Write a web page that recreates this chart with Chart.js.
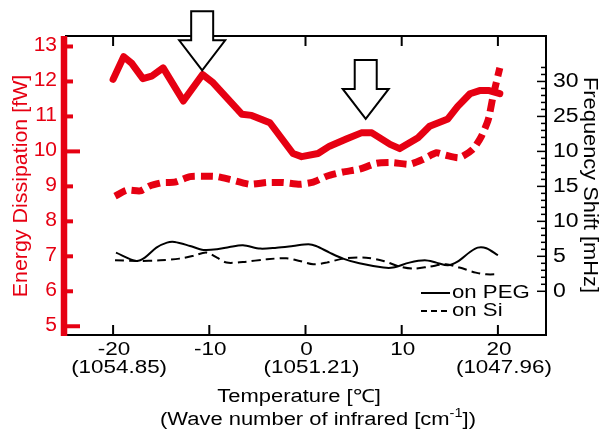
<!DOCTYPE html>
<html>
<head>
<meta charset="utf-8">
<script src="https://cdn.jsdelivr.net/npm/chart.js@4.4.0/dist/chart.umd.min.js"></script>
<style>
  html, body { margin: 0; padding: 0; background: #fff; }
  #wrap { width: 602px; height: 434px; }
</style>
</head>
<body>
<div id="wrap"><canvas id="chart"></canvas></div>
<script>
// energy dissipation [fW], left axis
const pegDissT = [-20.0, -18.9, -18.1, -16.9, -16.0, -14.8, -12.7, -10.7, -9.6, -6.6, -5.6, -3.7, -1.3, -0.4, 1.3, 2.5, 4.3, 5.8, 6.9, 8.8, 9.8, 11.7, 12.9, 14.8, 15.8, 17.1, 18.1, 19.1, 20.2];
const pegDissE = [12.06, 12.71, 12.53, 12.08, 12.15, 12.39, 11.44, 12.2, 11.96, 11.06, 11.03, 10.82, 9.94, 9.85, 9.94, 10.15, 10.36, 10.53, 10.53, 10.2, 10.08, 10.39, 10.72, 10.93, 11.28, 11.65, 11.74, 11.74, 11.65];
const siDissT = [-19.8, -18.6, -17.2, -16.2, -14.8, -13.6, -12.0, -10.3, -9.2, -7.9, -5.8, -4.0, -2.3, -0.6, 0.8, 2.2, 3.9, 5.6, 7.4, 9.1, 10.8, 12.2, 13.6, 14.6, 16.0, 17.4, 18.3, 19.0, 19.5, 20.2];
const siDissE = [8.72, 8.89, 8.87, 9.01, 9.11, 9.12, 9.28, 9.29, 9.28, 9.2, 9.06, 9.11, 9.11, 9.06, 9.12, 9.29, 9.41, 9.49, 9.66, 9.68, 9.63, 9.77, 9.96, 9.89, 9.82, 10.06, 10.44, 10.91, 11.58, 12.39];

// frequency shift [mHz], right axis
const pegShiftT = [-19.7, -17.6, -16.7, -15.5, -14.4, -13.6, -12.0, -10.6, -9.2, -7.9, -6.5, -4.7, -3.0, -1.3, 0.3, 1.1, 2.5, 3.9, 5.6, 8.1, 9.1, 10.8, 12.4, 13.6, 14.8, 15.8, 17.1, 17.9, 18.8, 20.0];
const pegShiftV = [5.53, 4.34, 4.82, 6.24, 6.96, 7.05, 6.48, 5.91, 6.0, 6.34, 6.58, 6.1, 6.24, 6.48, 6.72, 6.48, 5.53, 4.67, 4.0, 3.39, 3.39, 4.1, 4.43, 4.1, 3.72, 4.24, 5.62, 6.24, 6.15, 5.15];
const siShiftT = [-19.8, -17.5, -15.1, -13.1, -11.7, -10.3, -9.2, -8.2, -6.5, -4.0, -2.0, -0.6, 0.8, 2.2, 3.9, 6.3, 8.1, 9.8, 11.2, 12.9, 14.6, 16.0, 17.7, 18.8, 20.0];
const siShiftV = [4.43, 4.34, 4.43, 4.67, 5.05, 5.53, 4.81, 4.1, 4.19, 4.58, 4.72, 4.34, 3.86, 4.1, 4.67, 4.81, 4.34, 3.53, 3.24, 3.53, 3.86, 3.39, 2.67, 2.43, 2.43];

// ticks
const xTicks = [-20, -10, 0, 10, 20];
const xTickLabels = ['-20', '-10', '0', '10', '20'];
const xTickWave = ['(1054.85)', '', '(1051.21)', '', '(1047.96)'];
const leftTicks = [5, 6, 7, 8, 9, 10, 11, 12, 13];
const rightTicks = [0, 5, 10, 15, 20, 25, 30];
const rightTickLabels = ['0', '5', '10', '15', '10', '25', '30'];
const seriesNames = ['on PEG', 'on Si'];

// arrow tips (temperature, dissipation)
const arrowTips = [{ x: -10.74, y: 12.32 }, { x: 6.26, y: 10.93 }];

const RED = '#e60012';
const FONT = '"Liberation Sans", Arial, sans-serif';

function pts(xs, ys) {
    return xs.map((x, i) => ({ x: x, y: ys[i] }));
}

function txt(ctx, s, x, y, size, align, sx, color, rot) {
    ctx.save();
    ctx.font = size + 'px ' + FONT;
    ctx.fillStyle = color || '#000';
    ctx.textBaseline = 'middle';
    ctx.textAlign = align;
    ctx.translate(x, y);
    if (rot) ctx.rotate(rot);
    ctx.scale(sx, 1);
    ctx.fillText(s, 0, 0);
    ctx.restore();
}

function line(ctx, x1, y1, x2, y2, w, color) {
    ctx.beginPath();
    ctx.moveTo(x1, y1);
    ctx.lineTo(x2, y2);
    ctx.lineWidth = w;
    ctx.strokeStyle = color;
    ctx.stroke();
}

function arrow(ctx, tx, ty) {
    // shaft 22 wide, head 46 wide, head 30 tall, total 59 tall
    ctx.beginPath();
    ctx.moveTo(tx, ty);
    ctx.lineTo(tx - 23, ty - 30);
    ctx.lineTo(tx - 11, ty - 30);
    ctx.lineTo(tx - 11, ty - 59);
    ctx.lineTo(tx + 11, ty - 59);
    ctx.lineTo(tx + 11, ty - 30);
    ctx.lineTo(tx + 23, ty - 30);
    ctx.closePath();
    ctx.fillStyle = '#fff';
    ctx.fill();
    ctx.lineWidth = 2;
    ctx.strokeStyle = '#000';
    ctx.lineJoin = 'miter';
    ctx.stroke();
}

const frame = {
    id: 'frame',
    afterDraw(chart) {
        const ctx = chart.ctx;
        const a = chart.chartArea;
        const x = chart.scales.x, yl = chart.scales.y, yr = chart.scales.y2;
        ctx.save();
        ctx.lineCap = 'butt';

        // box
        line(ctx, a.left, a.top, a.right + 1, a.top, 2, '#000');
        line(ctx, a.left, a.bottom, a.right + 1, a.bottom, 2, '#000');
        line(ctx, a.right, a.top, a.right, a.bottom, 2, '#000');

        // x ticks top and bottom
        xTicks.forEach((v, i) => {
            const px = x.getPixelForValue(v);
            line(ctx, px, a.bottom, px, a.bottom - 10, 2, '#000');
            line(ctx, px, a.top, px, a.top + 10, 2, '#000');
            txt(ctx, xTickLabels[i], px + 1, 350, 18, 'center', 1.25);
            if (xTickWave[i]) txt(ctx, xTickWave[i], px + 6, 368, 17.5, 'center', 1.28);
        });

        // right axis: minor every 1 mHz
        for (let v = 0; v <= 32; v++) {
            const py = yr.getPixelForValue(v);
            const len = v % 5 === 0 ? 9 : 5;
            line(ctx, a.right, py, a.right - len, py, 1.5, '#000');
        }
        rightTicks.forEach((v, i) => {
            txt(ctx, rightTickLabels[i], a.right + 7, yr.getPixelForValue(v), 20, 'left', 1.15);
        });

        // left red axis
        line(ctx, a.left - 1, a.top, a.left - 1, a.bottom + 1, 6.5, RED);
        leftTicks.forEach(v => {
            const py = yl.getPixelForValue(v);
            const len = v % 5 === 0 ? 15 : 8;
            line(ctx, a.left, py, a.left + len, py, 4, RED);
            txt(ctx, String(v), a.left - 8, py - 1, 20, 'right', 1.05, RED);
        });

        // axis titles
        txt(ctx, 'Energy Dissipation [fW]', 21, 186, 21, 'center', 1.02, RED, -Math.PI / 2);
        txt(ctx, 'Frequency Shift [mHz]', 590, 185, 21, 'center', 1.04, '#000', Math.PI / 2);

        // x title with superscript
        const sx = 1.22;
        txt(ctx, 'Temperature [\u2103]', 299, 397, 18, 'center', sx);
        ctx.font = '18px ' + FONT;
        const p1 = '(Wave number of infrared [cm', p3 = '])';
        const w1 = ctx.measureText(p1).width, w3 = ctx.measureText(p3).width;
        ctx.font = '12px ' + FONT;
        const w2 = ctx.measureText('-1').width;
        const total = (w1 + w2 + w3) * sx;
        let sx0 = 318 - total / 2;
        txt(ctx, p1, sx0, 420, 18, 'left', sx);
        txt(ctx, '-1', sx0 + w1 * sx, 414, 12, 'left', sx);
        txt(ctx, p3, sx0 + (w1 + w2) * sx, 420, 18, 'left', sx);

        // legend
        line(ctx, 421, 293, 450, 293, 2, '#000');
        ctx.setLineDash([6, 4]);
        line(ctx, 421, 311, 450, 311, 2, '#000');
        ctx.setLineDash([]);
        txt(ctx, seriesNames[0], 452, 293, 18.5, 'left', 1.2);
        txt(ctx, seriesNames[1], 452, 311, 18.5, 'left', 1.2);

        // arrows
        arrowTips.forEach(t => arrow(ctx, x.getPixelForValue(t.x), yl.getPixelForValue(t.y)));
        ctx.restore();
    }
};

new Chart(document.getElementById('chart'), {
    type: 'line',
    data: {
        datasets: [
            { label: 'Dissipation ' + seriesNames[0], data: pts(pegDissT, pegDissE), yAxisID: 'y',
              borderColor: RED, borderWidth: 7, tension: 0, borderJoinStyle: 'round', borderCapStyle: 'round' },
            { label: 'Dissipation ' + seriesNames[1], data: pts(siDissT, siDissE), yAxisID: 'y',
              borderColor: RED, borderWidth: 7, tension: 0.2, borderDash: [12, 6] },
            { label: 'Shift ' + seriesNames[0], data: pts(pegShiftT, pegShiftV), yAxisID: 'y2',
              borderColor: '#000', borderWidth: 2, tension: 0.3 },
            { label: 'Shift ' + seriesNames[1], data: pts(siShiftT, siShiftV), yAxisID: 'y2',
              borderColor: '#000', borderWidth: 2, tension: 0.3, borderDash: [9, 5] }
        ]
    },
    options: {
        responsive: true,
        maintainAspectRatio: false,
        animation: false,
        layout: { padding: { left: 65, right: 56, top: 36, bottom: 99 } },
        elements: { point: { radius: 0 } },
        plugins: { legend: { display: false }, tooltip: { enabled: false } },
        scales: {
            x: { type: 'linear', min: -25, max: 25, display: false },
            y: { type: 'linear', min: 4.75, max: 13.3, display: false },
            y2: { type: 'linear', min: -6.25, max: 36.5, display: false }
        }
    },
    plugins: [frame]
});
</script>
</body>
</html>
